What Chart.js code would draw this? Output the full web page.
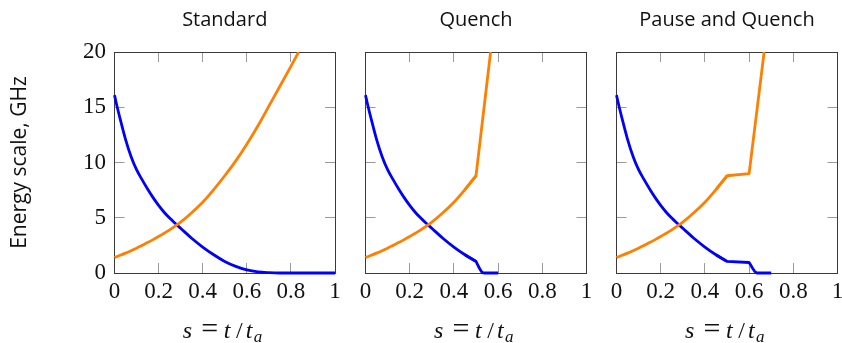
<!DOCTYPE html>
<html>
<head>
<meta charset="utf-8">
<script src="https://cdn.jsdelivr.net/npm/chart.js@4.4.1/dist/chart.umd.min.js"></script>
<style>
  html, body { margin: 0; padding: 0; background: #fff; }
  #wrap { position: relative; width: 842px; height: 343px; }
  #wrap canvas { position: absolute; left: 0; top: 0; }
</style>
</head>
<body>
<div id="wrap">
  <canvas id="standard" width="842" height="343"></canvas>
  <canvas id="quench" width="842" height="343"></canvas>
  <canvas id="pause" width="842" height="343"></canvas>
</div>
<script>
// values
const panelTitles = ['Standard', 'Quench', 'Pause and Quench'];
const xTicks = [0, 0.2, 0.4, 0.6, 0.8, 1];
const yTicks = [0, 5, 10, 15, 20];

// common part of the schedule, s from 0 to 0.5
const rampS      = [0, 0.0125, 0.025, 0.05, 0.075, 0.1, 0.125, 0.15, 0.175, 0.2, 0.225, 0.25, 0.275, 0.3, 0.35, 0.4, 0.45, 0.5];
const rampBlue   = [16.1, 15.0, 14.0, 12.1, 10.55, 9.35, 8.45, 7.6, 6.82, 6.12, 5.5, 4.97, 4.5, 4.05, 3.15, 2.35, 1.65, 1.05];
const rampOrange = [1.4, 1.5, 1.6, 1.8, 2.02, 2.25, 2.5, 2.75, 3.02, 3.3, 3.6, 3.9, 4.24, 4.6, 5.45, 6.4, 7.55, 8.8];

// standard anneal, after s = 0.5
const stdBlueS     = [0.55, 0.6, 0.65, 0.7, 0.75, 1];
const stdBlue      = [0.6, 0.28, 0.1, 0.03, 0, 0];
const stdOrangeS   = [0.55, 0.6, 0.65, 0.7, 0.75, 0.8, 0.835];
const stdOrange    = [10.15, 11.65, 13.3, 15.1, 16.9, 18.7, 20];

// quench at s = 0.5
const quenchBlueS   = [0.505, 0.515, 0.525, 0.532, 0.54, 0.6];
const quenchBlue    = [0.85, 0.45, 0.12, 0.02, 0, 0];
const quenchOrangeS = [0.566];
const quenchOrange  = [20];

// pause from 0.5 to 0.6, then quench
const pauseBlueS   = [0.6, 0.605, 0.615, 0.625, 0.635, 0.7];
const pauseBlue    = [0.95, 0.8, 0.45, 0.15, 0, 0];
const pauseOrangeS = [0.6, 0.668];
const pauseOrange  = [9.0, 20];

const BLUE = '#0000ff';
const ORANGE = '#ff8000';
const FRAME = '#3a3a3a';
const TICK = '#9a9a9a';
const TEXT = '#111111';
const SERIF = '"Liberation Serif", "Times New Roman", serif';
const SANS = '"Open Sans", "DejaVu Sans", sans-serif';

// plot boxes in page pixels
const areas = [
  { left: 114.5, right: 335 },
  { left: 365.5, right: 586.5 },
  { left: 616.5, right: 837.5 }
];

const xTitlePlugin = {
  id: 'xTitle',
  afterDraw(chart) {
    const ctx = chart.ctx, a = chart.chartArea;
    const cx = (a.left + a.right) / 2, base = 338;
    ctx.save();
    ctx.fillStyle = TEXT;
    ctx.textBaseline = 'alphabetic';
    ctx.textAlign = 'left';
    ctx.font = 'italic 24px ' + SERIF;
    ctx.fillText('s', cx - 42, base);
    ctx.fillText('t', cx - 1, base);
    ctx.fillText('t', cx + 21, base);
    ctx.textAlign = 'center';
    ctx.font = '30px ' + SERIF;
    ctx.fillText('=', cx - 15, base);
    ctx.font = '24px ' + SERIF;
    ctx.fillText('/', cx + 14.5, base);
    ctx.textAlign = 'left';
    ctx.font = 'italic 17px ' + SERIF;
    ctx.fillText('a', cx + 29, base + 3.5);
    ctx.restore();
  }
};

function pts(xs, ys) {
  return xs.map((x, i) => ({ x: x, y: ys[i] }));
}

function frameAxis(position, ticks) {
  return {
    type: 'linear',
    position: position,
    grid: { drawOnChartArea: false, drawTicks: true, tickLength: -10, color: TICK, lineWidth: 1 },
    border: { display: true, color: FRAME, width: 1 },
    afterBuildTicks: s => { s.ticks = ticks.map(v => ({ value: v })); }
  };
}

function smooth(data, color, order) {
  return { data: data, borderColor: color, order: order, cubicInterpolationMode: 'monotone' };
}
function straight(data, color, order) {
  return { data: data, borderColor: color, order: order, tension: 0 };
}

function makeChart(id, idx, datasets) {
  const area = areas[idx];
  const first = idx === 0;

  const x = frameAxis('bottom', xTicks);
  Object.assign(x, {
    min: 0, max: 1,
    ticks: { display: true, padding: 15, color: TEXT, font: { family: SERIF, size: 23 },
             maxRotation: 0, autoSkip: false, callback: v => String(v) },
    afterFit: s => { s.height = 70; s.paddingLeft = 0; s.paddingRight = 0; }
  });
  const x2 = frameAxis('top', xTicks);
  Object.assign(x2, { min: 0, max: 1, ticks: { display: false },
    afterFit: s => { s.height = 0; s.paddingLeft = 0; s.paddingRight = 0; } });

  const y = frameAxis('left', yTicks);
  Object.assign(y, {
    min: 0, max: 20,
    ticks: { display: first, padding: 18.5, color: TEXT, font: { family: SERIF, size: 23 },
             callback: v => String(v) },
    title: { display: first, text: 'Energy scale, GHz', color: TEXT,
             font: { family: SANS, size: 21 }, padding: { top: 7.4, bottom: 0 } },
    afterFit: s => { s.width = area.left; s.paddingTop = 0; s.paddingBottom = 0; }
  });
  const y2 = frameAxis('right', yTicks);
  Object.assign(y2, { min: 0, max: 20, ticks: { display: false },
    afterFit: s => { s.width = 0; s.paddingTop = 0; s.paddingBottom = 0; } });

  return new Chart(document.getElementById(id), {
    type: 'line',
    data: { datasets: datasets },
    options: {
      responsive: false,
      animation: false,
      events: [],
      elements: {
        point: { radius: 0 },
        line: { borderWidth: 2.8, borderJoinStyle: 'round', fill: false }
      },
      datasets: { line: { clip: { left: 3, top: 0, right: 3, bottom: 3 } } },
      layout: { padding: { left: 0, right: 842 - area.right, top: 0, bottom: 0 } },
      plugins: {
        legend: { display: false },
        tooltip: { enabled: false },
        title: {
          display: true, text: panelTitles[idx], fullSize: false, color: TEXT,
          font: { family: SANS, size: 20, weight: 'normal' },
          padding: { top: 8, bottom: 20 }
        }
      },
      scales: { x: x, x2: x2, y: y, y2: y2 }
    },
    plugins: [xTitlePlugin]
  });
}

// the tails start one step before s = 0.5 so the corner joins cleanly
const joinS = rampS.slice(-2), joinBlue = rampBlue.slice(-2), joinOrange = rampOrange.slice(-2);

makeChart('standard', 0, [
  smooth(pts(rampS.concat(stdOrangeS), rampOrange.concat(stdOrange)), ORANGE, 0),
  smooth(pts(rampS.concat(stdBlueS), rampBlue.concat(stdBlue)), BLUE, 1)
]);
makeChart('quench', 1, [
  smooth(pts(rampS, rampOrange), ORANGE, 0),
  straight(pts(joinS.concat(quenchOrangeS), joinOrange.concat(quenchOrange)), ORANGE, 0),
  smooth(pts(rampS, rampBlue), BLUE, 1),
  straight(pts(joinS.concat(quenchBlueS), joinBlue.concat(quenchBlue)), BLUE, 1)
]);
makeChart('pause', 2, [
  smooth(pts(rampS, rampOrange), ORANGE, 0),
  straight(pts(joinS.concat(pauseOrangeS), joinOrange.concat(pauseOrange)), ORANGE, 0),
  smooth(pts(rampS, rampBlue), BLUE, 1),
  straight(pts(joinS.concat(pauseBlueS), joinBlue.concat(pauseBlue)), BLUE, 1)
]);
</script>
</body>
</html>
